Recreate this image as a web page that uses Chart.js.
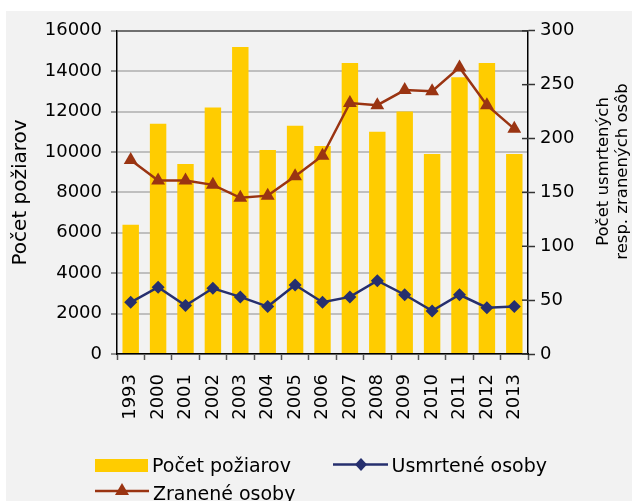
<!DOCTYPE html>
<html>
<head>
<meta charset="utf-8">
<script src="https://cdn.jsdelivr.net/npm/chart.js@4"></script>
<style>
  html, body { margin: 0; padding: 0; background: #ffffff; width: 632px; height: 501px; overflow: hidden; }
  #panel { position: absolute; left: 6px; top: 11px; width: 626px; height: 490px; background: #f2f2f2; }
  #c { position: absolute; left: 6px; top: 11px; }
  .t { position: absolute; font-family: 'DejaVu Sans', sans-serif; color: #000; white-space: nowrap; }
  .leg { font-size: 19px; line-height: 19px; }
  #rtitle { font-size: 16.5px; line-height: 18.5px; text-align: center; width: 220px; height: 37px;
            left: 501.5px; top: 152.5px; transform: rotate(-90deg); transform-origin: 50% 50%; }
  svg { position: absolute; left: 0; top: 0; }
</style>
</head>
<body>
<div id="panel"></div>
<canvas id="c" width="626" height="430"></canvas>
<div class="t" id="rtitle">Počet usmrtených<br>resp. zranených osôb</div>
<svg width="632" height="501">
  <rect x="95" y="459" width="53" height="13" fill="#FFCC00"/>
  <line x1="333" y1="464.5" x2="388" y2="464.5" stroke="#262f6e" stroke-width="2.5"/>
  <polygon points="361,458 367,464.5 361,471 355,464.5" fill="#262f6e"/>
  <line x1="95" y1="491" x2="149" y2="491" stroke="#9a3412" stroke-width="2.5"/>
  <polygon points="122,483 129,495 115,495" fill="#9a3412"/>
</svg>
<div class="t leg" style="left:152px; top:456px;">Počet požiarov</div>
<div class="t leg" style="left:391.5px; top:456px;">Usmrtené osoby</div>
<div class="t leg" style="left:153px; top:484px;">Zranené osoby</div>
<script>
const years = ['1993','2000','2001','2002','2003','2004','2005','2006','2007','2008','2009','2010','2011','2012','2013'];
const fires = [6400, 11400, 9400, 12200, 15200, 10100, 11300, 10300, 14400, 11000, 12000, 9900, 13700, 14400, 9900];
const deaths = [48, 62, 45, 61, 53, 44, 64, 48, 53, 68, 55, 40, 55, 43, 44];
const injured = [180, 161, 161, 157, 145, 147, 165, 184, 233, 231, 245, 244, 266, 231, 209];
const seriesNames = ['Počet požiarov', 'Usmrtené osoby', 'Zranené osoby'];
const leftTitle = 'Počet požiarov';

Chart.defaults.font.family = "'DejaVu Sans', sans-serif";
Chart.defaults.color = '#000';

const innerTicks = {
  id: 'innerTicks',
  afterDraw(chart) {
    const s = chart.scales.y1;
    const ctx = chart.ctx;
    ctx.save();
    ctx.strokeStyle = '#333';
    ctx.lineWidth = 1.5;
    s.ticks.forEach(t => {
      const y = s.getPixelForValue(t.value);
      ctx.beginPath();
      ctx.moveTo(s.left - 6, y);
      ctx.lineTo(s.left, y);
      ctx.stroke();
    });
    ctx.restore();
  }
};

new Chart(document.getElementById('c'), {
  data: {
    labels: years,
    datasets: [
      {
        type: 'line', label: seriesNames[1], data: deaths, yAxisID: 'y1', order: 1,
        borderColor: '#262f6e', backgroundColor: '#262f6e', borderWidth: 2.5,
        pointStyle: 'rectRot', pointRadius: 6.5, pointBorderWidth: 0, tension: 0
      },
      {
        type: 'line', label: seriesNames[2], data: injured, yAxisID: 'y1', order: 2,
        borderColor: '#9a3412', backgroundColor: '#9a3412', borderWidth: 2.5,
        pointStyle: 'triangle', pointRadius: 8, pointBorderWidth: 0, tension: 0
      },
      {
        type: 'bar', label: seriesNames[0], data: fires, yAxisID: 'y', order: 3,
        backgroundColor: '#FFCC00', borderWidth: 0,
        barPercentage: 0.6, categoryPercentage: 1
      }
    ]
  },
  options: {
    responsive: false,
    animation: false,
    events: [],
    layout: { padding: { top: 14, left: 0, right: 0, bottom: 0 } },
    plugins: { legend: { display: false }, tooltip: { enabled: false } },
    scales: {
      x: {
        type: 'category',
        offset: true,
        afterFit: s => { s.height = 87; },
        grid: { offset: true, drawOnChartArea: false, tickLength: 6, tickColor: '#555', tickWidth: 1.5 },
        border: { color: '#000', width: 1.5 },
        ticks: { autoSkip: false, maxRotation: 90, minRotation: 90, padding: 14, font: { size: 18 }, color: '#000' }
      },
      y: {
        position: 'left',
        min: 0, max: 16000,
        afterFit: s => { s.width = 111; },
        ticks: { stepSize: 2000, padding: 9, font: { size: 18 }, color: '#000', callback: v => String(v) },
        grid: {
          color: c => (c.tick && c.tick.value === 16000) ? '#707070' : '#bfbfbf',
          lineWidth: 2, tickLength: 6, tickColor: '#707070', tickWidth: 1.5
        },
        border: { color: '#000', width: 1.5 },
        title: { display: true, text: leftTitle, font: { size: 20, lineHeight: 1 }, padding: { top: 5, bottom: 0 }, color: '#000' }
      },
      y1: {
        position: 'right',
        min: 0, max: 300,
        afterFit: s => { s.width = 104; },
        ticks: { stepSize: 50, padding: 5, font: { size: 18 }, color: '#000', callback: v => String(v) },
        grid: { drawOnChartArea: false, tickLength: 7, tickColor: '#333', tickWidth: 1.5 },
        border: { color: '#000', width: 1.5 }
      }
    }
  },
  plugins: [innerTicks]
});
</script>
</body>
</html>
